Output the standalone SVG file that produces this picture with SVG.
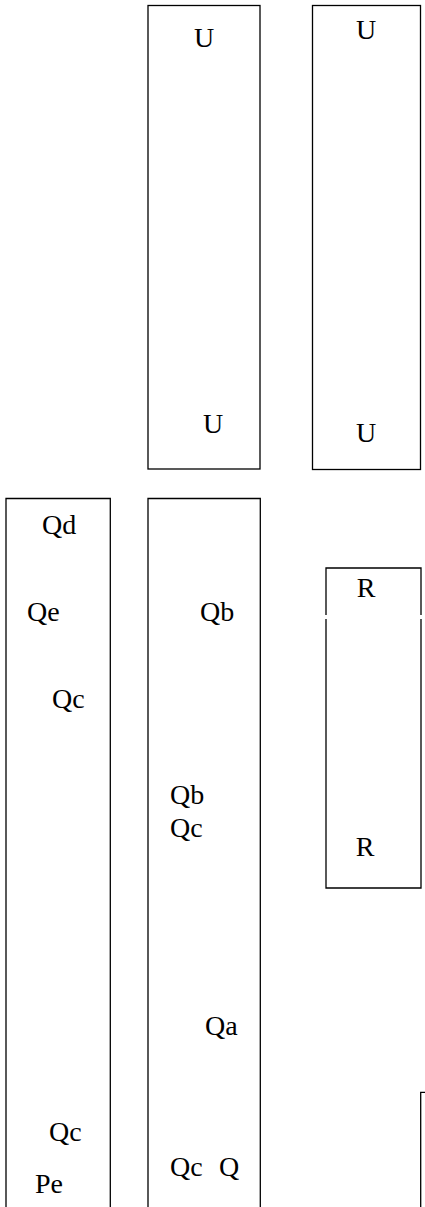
<svg xmlns="http://www.w3.org/2000/svg" width="425" height="1207" viewBox="0 0 425 1207">
<style>
.b{fill:none;stroke:#000;stroke-width:1.3}
.t{font-family:"Liberation Serif","Times New Roman",serif;font-size:28px;fill:#000}
</style>
<rect width="425" height="1207" fill="#fff"/>
<g id="u1">
<rect class="b" x="148" y="5.5" width="112" height="463.5"/>
<text class="t" x="204" y="47" text-anchor="middle">U</text>
<text class="t" x="213" y="433" text-anchor="middle">U</text>
</g>
<g id="u2">
<rect class="b" x="312.5" y="5.5" width="108" height="464"/>
<text class="t" x="366" y="39" text-anchor="middle">U</text>
<text class="t" x="366" y="442" text-anchor="middle">U</text>
</g>
<g id="q1">
<path class="b" d="M6,1207V498.5H110.3V1207"/>
<text class="t" x="42" y="534">Qd</text>
<text class="t" x="27" y="621">Qe</text>
<text class="t" x="52" y="708">Qc</text>
<text class="t" x="49" y="1141">Qc</text>
<text class="t" x="35" y="1193">Pe</text>
</g>
<g id="q2">
<path class="b" d="M148,1207V498.5H260.3V1207"/>
<text class="t" x="200" y="621">Qb</text>
<text class="t" x="170" y="804">Qb</text>
<text class="t" x="170" y="837">Qc</text>
<text class="t" x="205" y="1035">Qa</text>
<text class="t" x="170" y="1176">Qc</text>
<text class="t" x="219" y="1176">Q</text>
</g>
<g id="r">
<path class="b" d="M326,615V568H421V615M326,619V888H421V619"/>
<text class="t" x="366" y="597" text-anchor="middle">R</text>
<text class="t" x="365" y="856" text-anchor="middle">R</text>
</g>
<g id="s">
<path class="b" d="M420.7,1207V1092.3H425"/>
</g>
</svg>
